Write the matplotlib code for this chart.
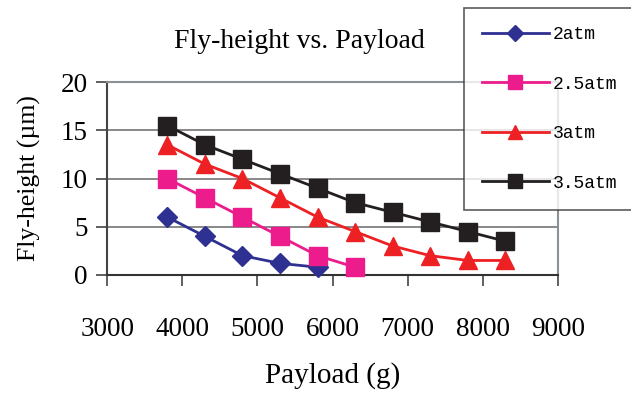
import matplotlib
matplotlib.use("Agg")
import matplotlib.pyplot as plt

payload = [3800, 4300, 4800, 5300, 5800, 6300, 6800, 7300, 7800, 8300]
h_2atm = [6.0, 4.0, 2.0, 1.2, 0.8]
h_25atm = [10.0, 8.0, 6.0, 4.0, 2.0, 0.8]
h_3atm = [13.5, 11.5, 10.0, 8.0, 6.0, 4.5, 3.0, 2.0, 1.5, 1.5]
h_35atm = [15.5, 13.5, 12.0, 10.5, 9.0, 7.5, 6.5, 5.5, 4.5, 3.5]

labels = ["2atm", "2.5atm", "3atm", "3.5atm"]
colors = ["#2E3192", "#EC1C8C", "#ED2024", "#231F20"]
markers = ["D", "s", "^", "s"]
msizes = [10.5, 13, 13, 13]
series = [h_2atm, h_25atm, h_3atm, h_35atm]

fig = plt.figure(figsize=(6.31, 3.95), dpi=100)
ax = fig.add_axes([0.170, 0.304, 0.714, 0.488])

for ys, lab, c, m, ms in zip(series, labels, colors, markers, msizes):
    ax.plot(payload[:len(ys)], ys, color=c, marker=m, markersize=ms, lw=2.0,
            label=lab, clip_on=False, zorder=3)

ax.set_xlim(3000, 9000)
ax.set_ylim(0, 20)
ax.set_xticks(range(3000, 9001, 1000))
ax.set_yticks([0, 5, 10, 15, 20])
ax.yaxis.grid(True, color="#7f7f7f", lw=1.3)
ax.set_axisbelow(True)
for s in ["top", "right"]:
    ax.spines[s].set_color("#8a9096")
    ax.spines[s].set_linewidth(1.5)
ax.spines["left"].set_color("#444444")
ax.spines["left"].set_linewidth(1.5)
ax.spines["bottom"].set_color("#333333")
ax.spines["bottom"].set_linewidth(1.5)
ax.tick_params(direction="out", length=8, width=1.2, color="#444444",
               labelsize=19.5, pad=6)
for t in ax.get_xticklabels() + ax.get_yticklabels():
    t.set_fontfamily("Liberation Serif")
ax.tick_params(axis="x", pad=22)

ax.set_xlabel("Payload (g)", fontfamily="Liberation Serif", fontsize=21, labelpad=15)
ax.set_ylabel("Fly-height (\u00b5m)", fontfamily="Liberation Serif", fontsize=18.5, labelpad=14)
fig.text(0.475, 0.895, "Fly-height vs. Payload", fontfamily="Liberation Serif",
         fontsize=20, ha="center", va="center")

leg = fig.legend(loc="upper left", bbox_to_anchor=(464 / 631, 1 - 8 / 395),
                 prop={"family": "Liberation Mono", "size": 13},
                 frameon=True, fancybox=False, edgecolor="#333333",
                 markerscale=0.75, handlelength=3.7, labelspacing=1.8,
                 borderpad=1.0, handletextpad=0.2, borderaxespad=0)
leg.get_frame().set_linewidth(1.2)

fig.savefig("out.png", dpi=100)
